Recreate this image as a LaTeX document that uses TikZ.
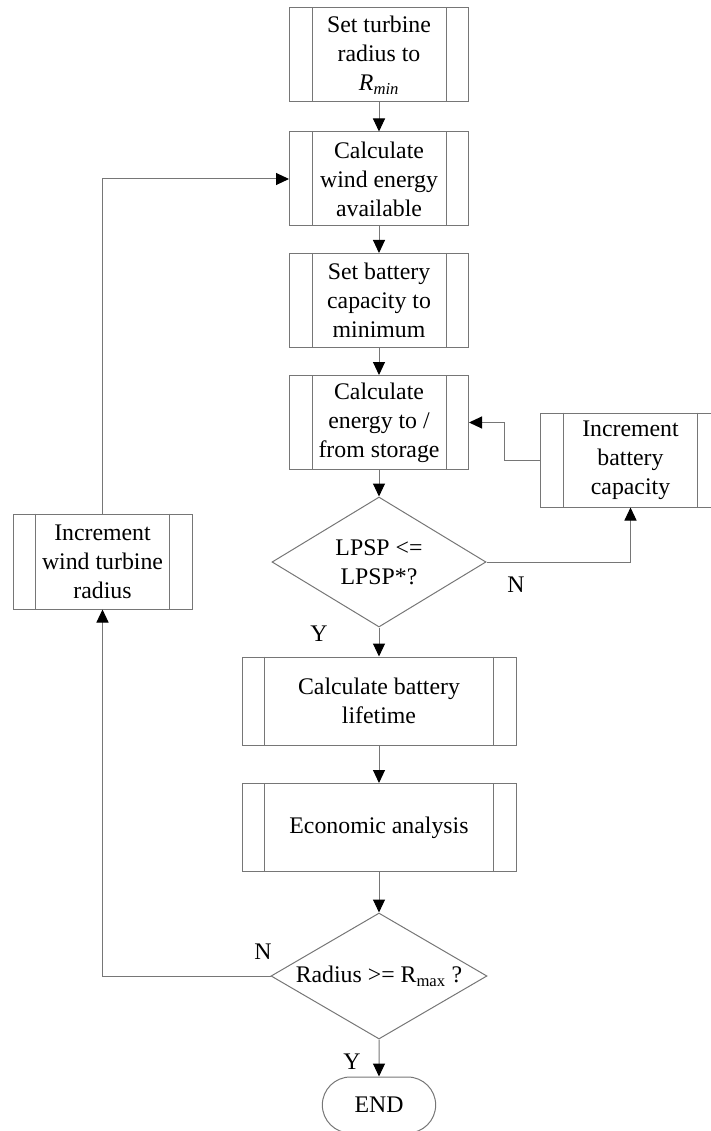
\documentclass[tikz,border=0pt]{standalone}
\usepackage{fontspec}
\setmainfont{Liberation Serif}
\usetikzlibrary{arrows.meta,shapes.geometric,shapes.misc}
\definecolor{linegray}{HTML}{767676}
\begin{document}
\begin{tikzpicture}[x=1pt,y=-1pt,
  every node/.style={font=\fontsize{23.8}{29}\selectfont, text=black},
  proc/.style={draw=linegray, line width=1pt, minimum width=179pt, minimum height=94pt, align=center, inner sep=0pt},
  wideproc/.style={proc, minimum width=274pt, minimum height=88pt},
  decision/.style={draw=linegray, line width=1pt, diamond, aspect=1.7, inner sep=0pt, align=center},
  terminal/.style={draw=linegray, line width=1pt, rounded rectangle, minimum width=120pt, minimum height=56pt},
  flow/.style={draw=linegray, line width=1pt, -{Triangle[length=13pt,width=12pt,color=black]}},
  lbl/.style={inner sep=0pt}]
\useasboundingbox (0,0) rectangle (711,1131);
\clip (0,0) rectangle (711,1131);

% main column
\node[proc] (b1) at (379,55) {Set turbine\\radius to\\\textit{R}\textsubscript{\textit{min}}};
\node[proc] (b2) at (379,179) {Calculate\\wind energy\\available};
\node[proc] (b3) at (379,300.5) {Set battery\\capacity to\\minimum};
\node[proc] (b4) at (379,422.5) {Calculate\\energy to /\\from storage};
\node[decision, minimum width=214pt, minimum height=130pt] (d1) at (379,562) {LPSP <=\\LPSP*?};
\node[wideproc] (b5) at (379,701) {Calculate battery\\lifetime};
\node[wideproc] (b6) at (379,827.5) {Economic analysis};
\node[decision, minimum width=216pt, minimum height=126pt] (d2) at (379,976) {Radius >= R\textsubscript{max} ?};
\node[terminal] (end) at (379,1105) {END};

% side boxes
\node[proc, minimum width=181pt] (incb) at (630.5,460) {Increment\\battery\\capacity};
\node[proc, minimum height=95pt] (lbox) at (102.5,561.5) {Increment\\wind turbine\\radius};

% side bars of the predefined-process boxes
\foreach \n/\d in {b1/23,b2/23,b3/23,b4/23,b5/23,b6/23,incb/24,lbox/23}{
  \draw[linegray, line width=1pt]
    ([xshift=\d pt]\n.north west) -- ([xshift=\d pt]\n.south west)
    ([xshift=-\d pt]\n.north east) -- ([xshift=-\d pt]\n.south east);
}

% connectors
\draw[flow] (b1) -- (b2);
\draw[flow] (b2) -- (b3);
\draw[flow] (b3) -- (b4);
\draw[flow] (b4) -- (d1);
\draw[flow] (d1) -- (b5);
\draw[flow] (b5) -- (b6);
\draw[flow] (b6) -- (d2);
\draw[flow] (d2) -- (end);
\draw[flow] (d1.east) -| (incb.south);
\draw[flow] (incb.west) -- ++(-35,0) |- (b4.east);
\draw[flow] (d2.west) -| (lbox.south);
\draw[flow] (lbox.north) |- (b2.west);

% branch labels
\node[lbl] (n1) at (516,585) {N};
\node[lbl] (y1) at (319,634) {Y};
\node[lbl] (n2) at (263,952) {N};
\node[lbl] (y2) at (352,1062) {Y};
\end{tikzpicture}
\end{document}
